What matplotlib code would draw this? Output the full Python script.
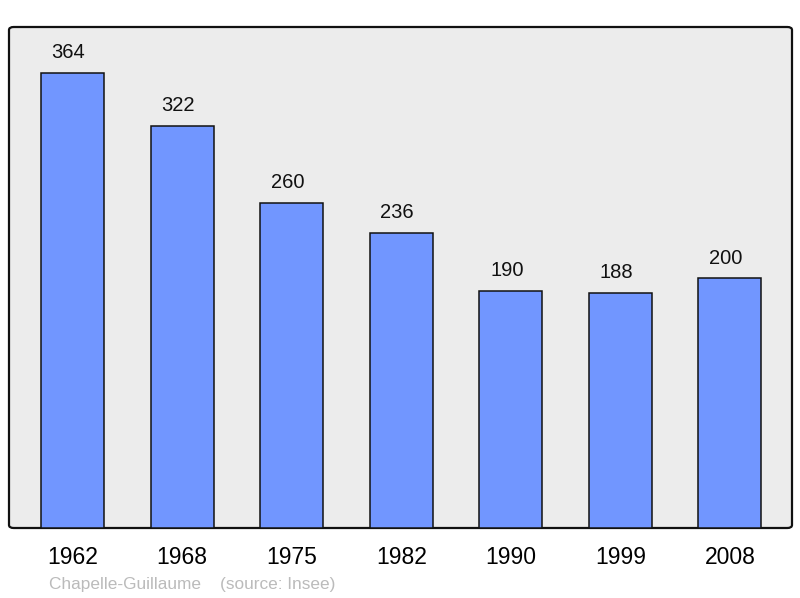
import matplotlib.pyplot as plt
from matplotlib.patches import FancyBboxPatch

years = ['1962', '1968', '1975', '1982', '1990', '1999', '2008']
population = [364, 322, 260, 236, 190, 188, 200]

plt.rcParams['font.family'] = ['Liberation Sans', 'DejaVu Sans']

fig = plt.figure(figsize=(8, 5.98), dpi=100)
ax = fig.add_axes([9 / 800, 1 - 528 / 598, 783 / 800, 501 / 598])
ax.set_facecolor('none')

# rounded frame behind the bars
frame = FancyBboxPatch((0, 0), 1, 1, boxstyle='round,pad=0,rounding_size=0.006',
                       transform=ax.transAxes, facecolor='#ececec', edgecolor='#111111',
                       linewidth=1.6, clip_on=False, zorder=0)
ax.add_patch(frame)

x = range(len(years))
ax.bar(x, population, width=0.575, color='#7196ff', edgecolor='#111111',
       linewidth=1.1, zorder=2)

for xi, v in zip(x, population):
    ax.text(xi - 0.037, v + 16, str(v), ha='center', va='center', fontsize=14.5, color='#111111')

ax.set_xlim(-0.58, 6.566)
ax.set_ylim(0, 400.8)
for s in ax.spines.values():
    s.set_visible(False)
ax.set_yticks([])
ax.set_xticks(list(x))
ax.set_xticklabels(years, fontsize=16.5)
ax.tick_params(axis='x', length=0, pad=13)

fig.text(49 / 800, 1 - 584 / 598, 'Chapelle-Guillaume    (source: Insee)',
         fontsize=12.4, color='#bbbbbb', ha='left', va='center')

fig.savefig('out.png', dpi=100)
